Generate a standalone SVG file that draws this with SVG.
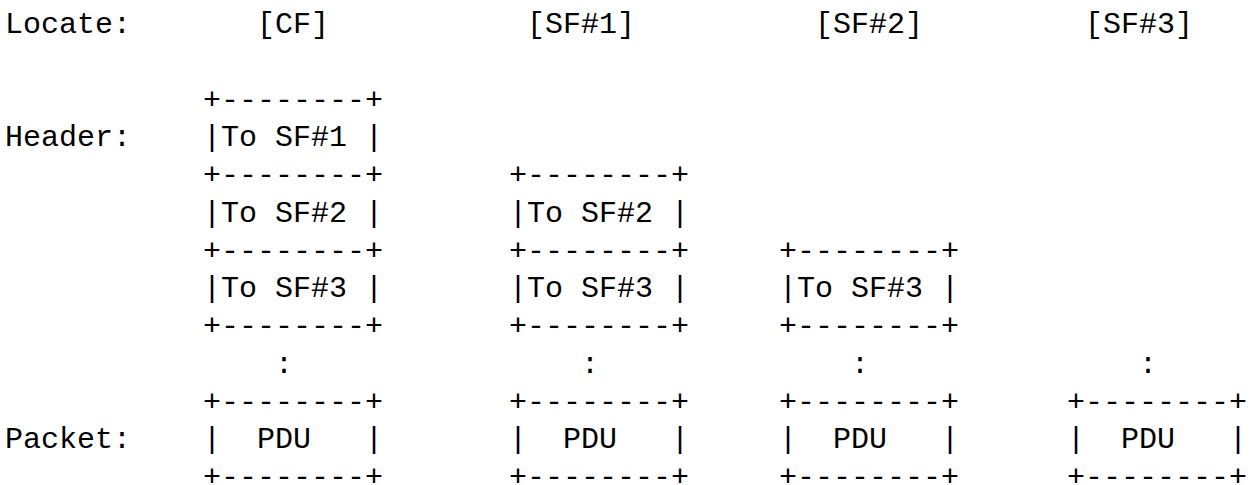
<svg xmlns="http://www.w3.org/2000/svg" width="1254" height="485" viewBox="0 0 1254 485" xml:space="preserve">
<style>
text { font-family: "Liberation Mono", "DejaVu Sans Mono", monospace; font-size: 30px; fill: #000; white-space: pre; }
</style>
<rect x="0" y="0" width="1254" height="485" fill="#fff"/>
<g id="row-labels">
<text x="5" y="33">Locate:</text>
<text x="5" y="146.25">Header:</text>
<text x="5" y="448.25">Packet:</text>
</g>
<g id="locate-cf"><text x="257" y="33">[CF]</text></g>
<g id="locate-sf1"><text x="527" y="33">[SF#1]</text></g>
<g id="locate-sf2"><text x="815" y="33">[SF#2]</text></g>
<g id="locate-sf3"><text x="1085" y="33">[SF#3]</text></g>
<g id="header-cf">
<text x="203" y="108.5">+--------+</text>
<text x="203" y="146.25">|To SF#1 |</text>
<text x="203" y="184">+--------+</text>
<text x="203" y="221.75">|To SF#2 |</text>
<text x="203" y="259.5">+--------+</text>
<text x="203" y="297.25">|To SF#3 |</text>
<text x="203" y="335">+--------+</text>
</g>
<g id="header-sf1">
<text x="509" y="184">+--------+</text>
<text x="509" y="221.75">|To SF#2 |</text>
<text x="509" y="259.5">+--------+</text>
<text x="509" y="297.25">|To SF#3 |</text>
<text x="509" y="335">+--------+</text>
</g>
<g id="header-sf2">
<text x="779" y="259.5">+--------+</text>
<text x="779" y="297.25">|To SF#3 |</text>
<text x="779" y="335">+--------+</text>
</g>
<g id="connectors">
<text x="275" y="372.75">:</text>
<text x="581" y="372.75">:</text>
<text x="851" y="372.75">:</text>
<text x="1139" y="372.75">:</text>
</g>
<g id="pdu-cf">
<text x="203" y="410.5">+--------+</text>
<text x="203" y="448.25">|  PDU   |</text>
<text x="203" y="486">+--------+</text>
</g>
<g id="pdu-sf1">
<text x="509" y="410.5">+--------+</text>
<text x="509" y="448.25">|  PDU   |</text>
<text x="509" y="486">+--------+</text>
</g>
<g id="pdu-sf2">
<text x="779" y="410.5">+--------+</text>
<text x="779" y="448.25">|  PDU   |</text>
<text x="779" y="486">+--------+</text>
</g>
<g id="pdu-sf3">
<text x="1067" y="410.5">+--------+</text>
<text x="1067" y="448.25">|  PDU   |</text>
<text x="1067" y="486">+--------+</text>
</g>
</svg>
